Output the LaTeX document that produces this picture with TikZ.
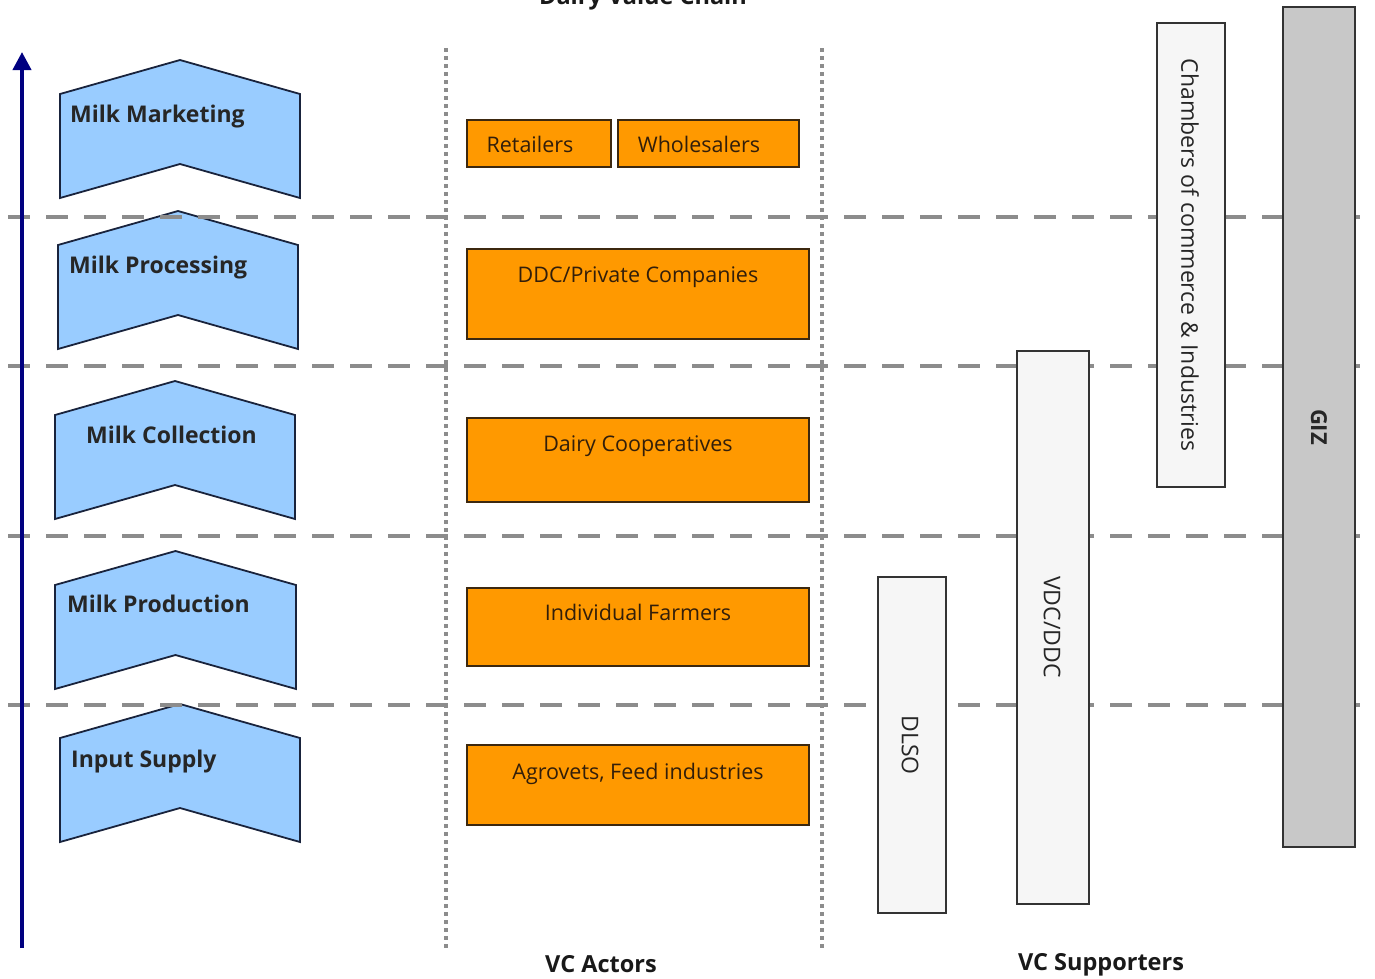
\documentclass[tikz,border=0pt]{standalone}
\usepackage{fontspec}
\setmainfont{Open Sans}
\usetikzlibrary{arrows.meta}
\definecolor{chevfill}{RGB}{153,204,255}
\definecolor{chevdraw}{RGB}{25,35,60}
\definecolor{actfill}{RGB}{255,153,0}
\definecolor{actdraw}{RGB}{60,40,15}
\definecolor{acttext}{RGB}{50,30,10}
\definecolor{supfill}{RGB}{246,246,246}
\definecolor{gizfill}{RGB}{200,200,200}
\definecolor{lvlgray}{RGB}{140,140,140}
\definecolor{navy}{RGB}{0,0,128}
\tikzset{
  chev/.style={fill=chevfill, draw=chevdraw, line width=1.8pt, line join=miter},
  chevtext/.style={anchor=base west, font=\fontsize{23}{26}\selectfont\bfseries, text=black!85, inner sep=0pt},
  actor/.style={fill=actfill, draw=actdraw, line width=1.8pt},
  acttxt/.style={anchor=base, font=\fontsize{21.5}{24}\selectfont, text=acttext, inner sep=0pt},
  supbox/.style={fill=supfill, draw=black!80, line width=1.8pt},
  suptxt/.style={rotate=-90, font=\fontsize{23}{26}\selectfont, text=black!85, inner sep=0pt},
  level/.style={draw=lvlgray, line width=4pt, dash pattern=on 22pt off 16pt},
  colsep/.style={draw=lvlgray, line width=3.5pt, dash pattern=on 3.5pt off 4.5pt},
  heading/.style={anchor=base, font=\fontsize{23.5}{26}\selectfont\bfseries, text=black!90, inner sep=0pt}
}
\newcommand{\chevron}[5]{% name, left, right, apex y, side height
  \draw[chev] (#2,#4+34) -- ({(#2+#3)/2},#4) -- (#3,#4+34) -- (#3,#4+34+#5) -- ({(#2+#3)/2},#4+#5) -- (#2,#4+34+#5) -- cycle;
  \coordinate (#1) at (#2,#4+34);
}
\begin{document}
\begin{tikzpicture}[x=1pt,y=-1pt]
\useasboundingbox (0,0) rectangle (1375,978);
% chevrons
\chevron{cmk}{60}{300}{60}{104}
\chevron{cpr}{58}{298}{211}{104}
\chevron{ccl}{55}{295}{381}{104}
\chevron{cpd}{55}{296}{551}{104}
\chevron{cin}{60}{300}{704}{104}
\node[chevtext] (tmk) at (70,122) {Milk Marketing};
\node[chevtext] (tpr) at (69,273) {Milk Processing};
\node[chevtext] (tcl) at (86,443) {Milk Collection};
\node[chevtext] (tpd) at (67,612) {Milk Production};
\node[chevtext] (tin) at (71,767) {Input Supply};
% level lines
\foreach \yy/\nm in {217/la,366/lb,536/lc,705/ld}{
  \coordinate (\nm w) at (8,\yy);
  \coordinate (\nm e) at (1375,\yy);
  \draw[level] (\nm w) -- (\nm e);
}
% axis arrow
\coordinate (ax0) at (22,948);
\coordinate (ax1) at (22,52);
\draw[navy, line width=4pt, -{Triangle[length=18pt,width=18pt]}] (ax0) -- (ax1);
% supporters
\draw[supbox] (878,577) rectangle (946,913);
\node[suptxt] (dlso) at (910,745) {DLSO};
\draw[supbox] (1017,351) rectangle (1089,904);
\node[suptxt] (vdc) at (1052,627) {VDC/DDC};
\draw[supbox] (1157,23) rectangle (1225,487);
\node[suptxt] (cham) at (1190,255) {Chambers of commerce \& Industries};
\draw[supbox, fill=gizfill] (1283,7) rectangle (1355,847);
\node[suptxt, font=\fontsize{22}{26}\selectfont\bfseries] (giz) at (1319,427) {GIZ};
% actors
\draw[actor] (467,120) rectangle (611,167);
\node[acttxt] (ret) at (530,152) {Retailers};
\draw[actor] (618,120) rectangle (799,167);
\node[acttxt] (who) at (699,152) {Wholesalers};
\draw[actor] (467,249) rectangle (809,339);
\node[acttxt] (ddc) at (638,282) {DDC/Private Companies};
\draw[actor] (467,418) rectangle (809,502);
\node[acttxt] (dco) at (638,451) {Dairy Cooperatives};
\draw[actor] (467,588) rectangle (809,666);
\node[acttxt] (ifa) at (638,620) {Individual Farmers};
\draw[actor] (467,745) rectangle (809,825);
\node[acttxt] (agr) at (638,779) {Agrovets, Feed industries};
% column separators
\foreach \xx/\nm in {446/sa,822/sb}{
  \coordinate (\nm n) at (\xx,48);
  \coordinate (\nm s) at (\xx,950);
  \draw[colsep] (\nm n) -- (\nm s);
}
% headings
\node[heading] (title) at (643,4) {Dairy Value Chain};
\node[heading] (vca) at (601,972) {VC Actors};
\node[heading] (vcs) at (1101,970) {VC Supporters};
\end{tikzpicture}
\end{document}
